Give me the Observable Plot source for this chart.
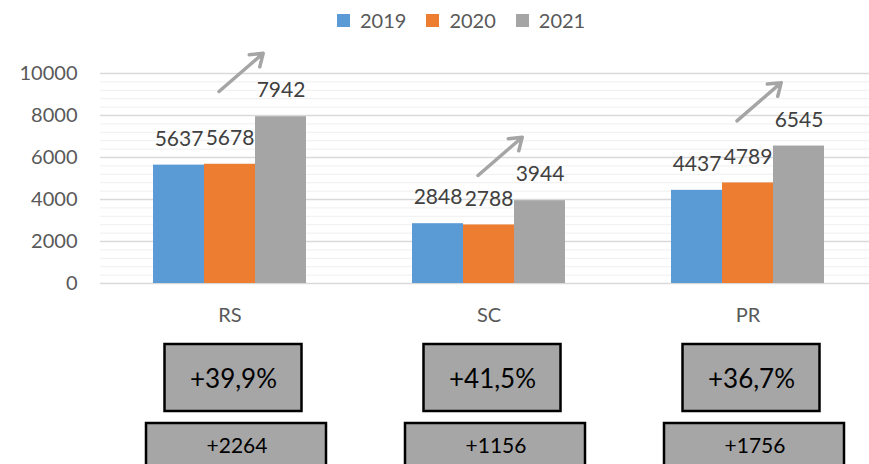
<!DOCTYPE html>
<html><head><meta charset="utf-8">
<script src="https://cdn.jsdelivr.net/npm/d3@7"></script>
<script src="https://cdn.jsdelivr.net/npm/@observablehq/plot@0.6"></script>
<style>
html,body{margin:0;padding:0;background:#fff;overflow:hidden;}
body{font-family:Lato,sans-serif;width:869px;height:464px;}
#legend{height:40px;padding-left:337px;box-sizing:border-box;}
svg{display:block;}
</style></head><body>
<div id="legend"></div><div id="chart"></div><div id="boxes"></div>
<script>
const categories = ["RS", "SC", "PR"];
const years = ["2019", "2020", "2021"];
const v2019 = [5637, 2848, 4437];
const v2020 = [5678, 2788, 4789];
const v2021 = [7942, 3944, 6545];
const yTicks = [0, 2000, 4000, 6000, 8000, 10000];
const colors = ["#5B9BD5", "#ED7D31", "#A5A5A5"];

const series = [v2019, v2020, v2021];
const rows = categories.flatMap((c, i) => years.map((y, j) => ({cat: c, year: y, value: series[j][i]})));
const minor = d3.range(0, 10001, 400);
const pctLabels = categories.map((c, i) => "+" + ((v2021[i] / v2020[i] - 1) * 100).toFixed(1).replace(".", ",") + "%");
const diffLabels = categories.map((c, i) => "+" + (v2021[i] - v2020[i]));

const leg = Plot.legend({color: {type: "ordinal", domain: years, range: colors}, legend: "swatches", swatchSize: 13});
leg.style.fontSize = "20px";
leg.style.fontFamily = "Lato, sans-serif";
leg.style.color = "#595959";
leg.style.height = "40px";
leg.style.minHeight = "40px";
leg.style.margin = "0";
document.getElementById("legend").appendChild(leg);

const font = {fontFamily: "Lato, sans-serif", fontSize: "20px", color: "#595959", background: "transparent", overflow: "hidden"};

const chart = Plot.plot({
  width: 869, height: 295,
  marginTop: 33, marginBottom: 52, marginLeft: 100, marginRight: 0,
  style: font,
  facet: {data: rows, x: "cat"},
  fx: {domain: categories, range: [100, 877], padding: 0, axis: null},
  x: {domain: years, paddingInner: 0, paddingOuter: 1, axis: null},
  y: {domain: [0, 10000], ticks: yTicks, tickSize: 0, tickPadding: 23, tickFormat: "d", label: null},
  color: {domain: years, range: colors},
  marks: [
    Plot.ruleY(minor, {stroke: "#EFEFEF", strokeWidth: 1}),
    Plot.ruleY(yTicks, {stroke: "#D9D9D9", strokeWidth: 1.3}),
    Plot.barY(rows, {x: "year", y: "value", fill: "year"}),
    Plot.text(rows, {x: "year", y: "value", text: d => String(d.value), dy: -26, fontSize: 21, fill: "#404040"}),
    Plot.text(rows, {filter: d => d.year === "2020", x: "year", y: () => 0, text: "cat", dy: 32, fontSize: 20, fill: "#595959"}),
    Plot.arrow(rows, {filter: d => d.year === "2021", x1: () => "2020", x2: () => "2021",
      y1: d => d.value + 1200, y2: d => d.value + 3300, dx: -11,
      stroke: "#A5A5A5", strokeWidth: 3.5, headLength: 6, headAngle: 70, insetEnd: 9})
  ]
});
document.getElementById("chart").appendChild(chart);

const boxes = Plot.plot({
  width: 869, height: 160, margin: 0,
  style: font,
  x: {domain: categories, range: [100, 877], padding: 0, axis: null},
  y: {domain: ["pct", "diff"], range: [9, 155], paddingInner: 0.152, paddingOuter: 0, axis: null},
  marks: [
    Plot.cell(categories, {x: d => d, y: () => "pct", fill: "#A6A6A6", stroke: "#000", strokeWidth: 2.5, insetLeft: 64.5, insetRight: 57.5}),
    Plot.cell(categories, {x: d => d, y: () => "diff", fill: "#A6A6A6", stroke: "#000", strokeWidth: 2.5, insetLeft: 46, insetRight: 33}),
    Plot.text(categories, {x: d => d, y: () => "pct", text: (d, i) => pctLabels[i], dx: 3.5, dy: 2, fontSize: 26, fill: "#000"}),
    Plot.text(categories, {x: d => d, y: () => "diff", text: (d, i) => diffLabels[i], dx: 7, dy: -11, fontSize: 21, fill: "#000"})
  ]
});
document.getElementById("boxes").appendChild(boxes);
</script></body></html>
